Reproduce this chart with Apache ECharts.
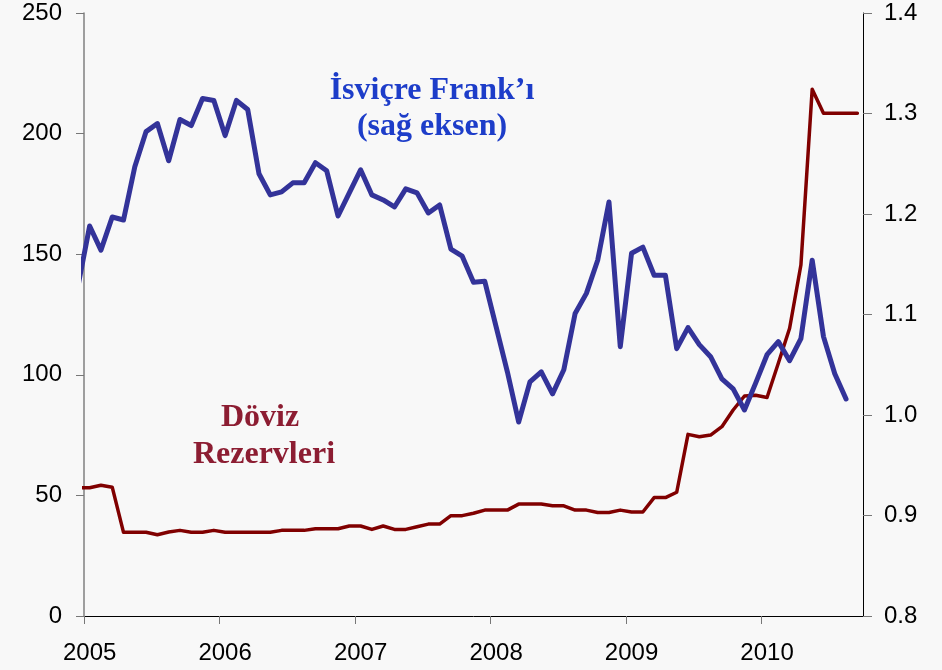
<!DOCTYPE html>
<html>
<head>
<meta charset="utf-8">
<script src="https://cdn.jsdelivr.net/npm/echarts@6/dist/echarts.min.js"></script>
<style>
  html, body { margin: 0; padding: 0; background: #f8f8f8; }
  #chart { width: 942px; height: 670px; }
</style>
</head>
<body>
<div id="chart"></div>
<script>
  // aylik veriler, Aralik 2004'ten baslar (ilk nokta eksen disinda kirpilir)
  var years = ['2005', '2006', '2007', '2008', '2009', '2010'];

  // Doviz rezervleri (sol eksen), Ara 2004 - Eyl 2010
  var reserves = [
    53.2,
    53.2, 54.2, 53.4, 34.7, 34.7, 34.7, 33.7, 34.8, 35.5, 34.7, 34.7, 35.5,
    34.7, 34.7, 34.7, 34.7, 34.7, 35.5, 35.5, 35.5, 36.2, 36.2, 36.2, 37.3,
    37.3, 35.9, 37.3, 35.9, 35.9, 37.0, 38.1, 38.1, 41.6, 41.6, 42.6, 43.9,
    43.9, 43.9, 46.4, 46.4, 46.4, 45.7, 45.7, 43.9, 43.9, 42.9, 42.9, 43.9,
    43.1, 43.1, 49.1, 49.1, 51.3, 75.3, 74.3, 75.0, 78.5, 85.4, 91.2, 91.5,
    90.6, 104.8, 119.3, 145.5, 218.4, 208.4, 208.4, 208.4, 208.4
  ];

  // Isvicre Frangi (sag eksen), Ara 2004 - Agu 2010
  var chf = [
    1.130,
    1.188, 1.164, 1.197, 1.194, 1.247, 1.282, 1.290, 1.253, 1.294, 1.288, 1.315, 1.313,
    1.278, 1.313, 1.304, 1.240, 1.219, 1.222, 1.231, 1.231, 1.251, 1.243, 1.198, 1.221,
    1.244, 1.219, 1.214, 1.207, 1.225, 1.221, 1.201, 1.209, 1.165, 1.158, 1.132, 1.133,
    1.088, 1.043, 0.993, 1.033, 1.043, 1.021, 1.045, 1.101, 1.121, 1.154, 1.212, 1.068,
    1.161, 1.167, 1.139, 1.139, 1.066, 1.087, 1.070, 1.058, 1.036, 1.026, 1.005, 1.032,
    1.060, 1.073, 1.054, 1.076, 1.154, 1.078, 1.041, 1.016
  ];

  function toPoints(arr) {
    // index 0 = Aralik 2004 -> ay numarasi -1
    return arr.map(function (v, i) { return [i - 1, v]; });
  }

  var tickPos = years.map(function (y, i) { return i * 12 - 0.5; });
  var labelPos = years.map(function (y, i) { return i * 12; });

  var chart = echarts.init(document.getElementById('chart'));
  var axisFont = { color: '#000', fontSize: 24, fontFamily: 'Liberation Sans, Arial, sans-serif' };

  chart.setOption({
    backgroundColor: '#f8f8f8',
    animation: false,
    grid: { left: 84, right: 79, top: 13, bottom: 54 },
    xAxis: {
      type: 'value',
      min: -0.5,
      max: 68.5,
      splitLine: { show: false },
      axisLine: { onZero: false, lineStyle: { color: '#000', width: 1 } },
      axisTick: { show: true, length: 8, customValues: tickPos, lineStyle: { color: '#777' } },
      axisLabel: Object.assign({
        margin: 25,
        customValues: labelPos,
        formatter: function (v) { return years[Math.round(v / 12)]; }
      }, axisFont)
    },
    yAxis: [{
      type: 'value',
      min: 0,
      max: 250,
      interval: 50,
      splitLine: { show: false },
      axisLine: { show: true, onZero: false, lineStyle: { color: '#808080', width: 1.5 } },
      axisTick: { show: true, length: 8, lineStyle: { color: '#777' } },
      axisLabel: Object.assign({ margin: 22 }, axisFont)
    }, {
      type: 'value',
      position: 'right',
      min: 0.8,
      max: 1.4,
      interval: 0.1,
      splitLine: { show: false },
      axisLine: { show: true, onZero: false, lineStyle: { color: '#000', width: 1 } },
      axisTick: { show: true, length: 9, lineStyle: { color: '#777' } },
      axisLabel: Object.assign({
        margin: 21,
        formatter: function (v) { return v.toFixed(1); }
      }, axisFont)
    }],
    series: [{
      name: 'Döviz Rezervleri',
      type: 'line',
      yAxisIndex: 0,
      data: toPoints(reserves),
      symbol: 'none',
      clip: true,
      lineStyle: { color: '#800000', width: 3.5, join: 'round', cap: 'round' }
    }, {
      name: 'İsviçre Frankı',
      type: 'line',
      yAxisIndex: 1,
      data: toPoints(chf),
      symbol: 'none',
      clip: true,
      lineStyle: { color: '#333399', width: 5, join: 'round', cap: 'round' }
    }],
    graphic: [
      { type: 'text', x: 432, y: 91, style: { text: 'İsviçre Frank’ı', fill: '#1d3dc9', font: 'bold 32px "Liberation Serif", "Times New Roman", serif', align: 'center', verticalAlign: 'middle' } },
      { type: 'text', x: 432, y: 127, style: { text: '(sağ eksen)', fill: '#1d3dc9', font: 'bold 32px "Liberation Serif", "Times New Roman", serif', align: 'center', verticalAlign: 'middle' } },
      { type: 'text', x: 260, y: 418, style: { text: 'Döviz', fill: '#8c1d32', font: 'bold 32px "Liberation Serif", "Times New Roman", serif', align: 'center', verticalAlign: 'middle' } },
      { type: 'text', x: 264, y: 455, style: { text: 'Rezervleri', fill: '#8c1d32', font: 'bold 32px "Liberation Serif", "Times New Roman", serif', align: 'center', verticalAlign: 'middle' } }
    ]
  });
</script>
</body>
</html>
